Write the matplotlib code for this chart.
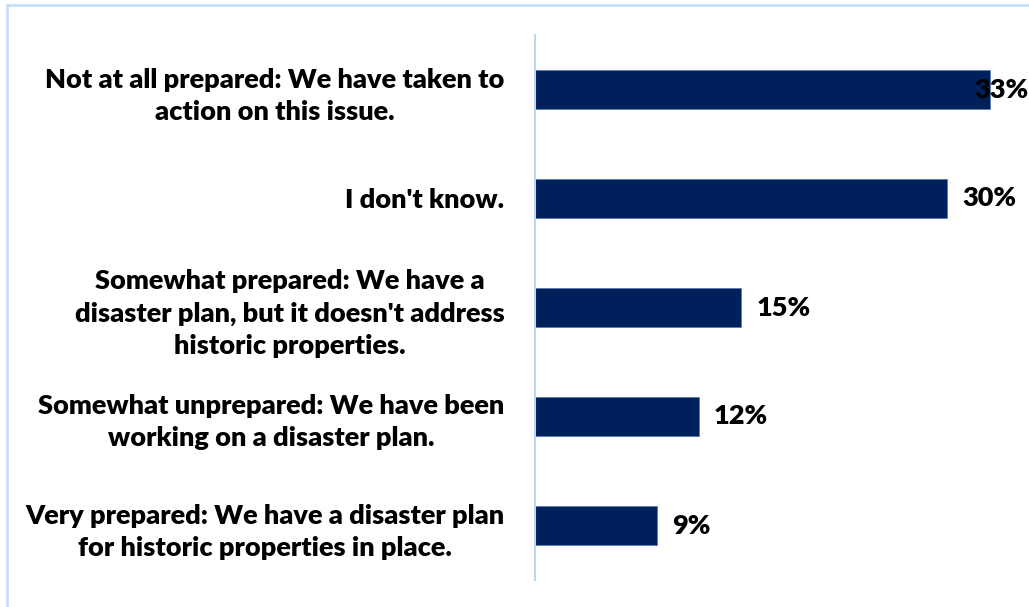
import matplotlib.pyplot as plt
from matplotlib.patches import Rectangle

plt.rcParams['font.family'] = ['Lato', 'DejaVu Sans']

categories = [
    "Not at all prepared: We have taken to\naction on this issue.",
    "I don't know.",
    "Somewhat prepared: We have a\ndisaster plan, but it doesn't address\nhistoric properties.",
    "Somewhat unprepared: We have been\nworking on a disaster plan.",
    "Very prepared: We have a disaster plan\nfor historic properties in place.",
]
values = [33.1, 30.0, 15.0, 11.9, 8.9]
labels = ["33%", "30%", "15%", "12%", "9%"]

W, H = 1029, 607
fig = plt.figure(figsize=(W / 100, H / 100), dpi=100)

# light blue frame of the chart area (only left/top visible in the image)
fig.patches.append(Rectangle((7 / W, -0.2), 1.2, 1.2 - 5 / H, transform=fig.transFigure,
                             fill=False, edgecolor='#C5DFF8', linewidth=2))

ax = fig.add_axes([535 / W, 27 / H, 481 / W, 545 / H])
ypos = list(range(len(categories)))
ax.barh(ypos, values, height=0.35, color='#00205B', edgecolor='#5A7BB0', linewidth=0.6)
ax.set_xlim(0, 35)
ax.set_ylim(len(categories) - 0.5, -0.5)

ax.set_yticks(ypos)
ax.set_yticklabels(categories, multialignment='center', fontsize=19.5,
                   fontweight='heavy', linespacing=1.4)
ax.tick_params(axis='y', length=0, pad=22)
ax.set_xticks([])
for s in ['top', 'right', 'bottom']:
    ax.spines[s].set_visible(False)
ax.spines['left'].set_color('#BDD7EE')
ax.spines['left'].set_linewidth(1.5)

# value labels; the longest one is pulled back to stay inside the picture
xmax_label = 32.0
for y, v, t in zip(ypos, values, labels):
    x = min(v + 1.1, xmax_label)
    ax.text(x, y, t, va='center', ha='left', fontsize=19.5, fontweight='heavy',
            color='black', clip_on=False)

fig.savefig('out.png', dpi=100)
